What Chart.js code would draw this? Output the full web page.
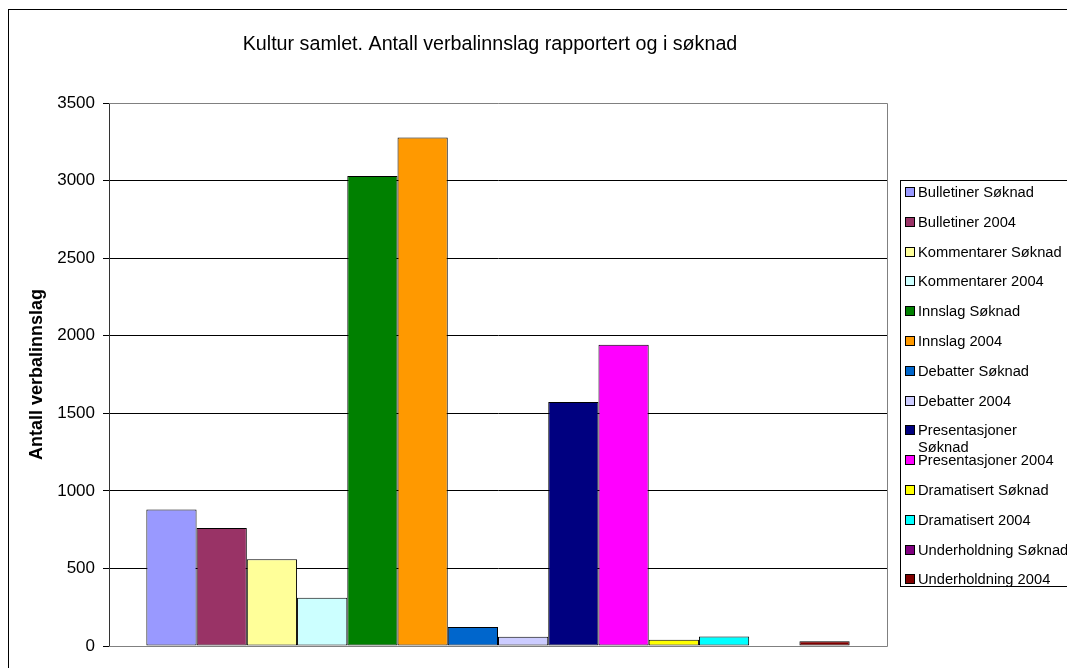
<!DOCTYPE html>
<html><head><meta charset="utf-8">
<script src="https://cdn.jsdelivr.net/npm/chart.js@4"></script>
<style>html,body{margin:0;padding:0;background:#fff}#wrap{width:1067px;height:668px}</style>
</head><body><div id="wrap"><canvas id="c" width="1067" height="668"></canvas></div>
<script>
const TITLE = 'Kultur samlet. Antall verbalinnslag rapportert og i søknad';
const Y_TITLE = 'Antall verbalinnslag';
const CATEGORIES = [''];
const SERIES_NAMES = [
  'Bulletiner Søknad', 'Bulletiner 2004',
  'Kommentarer Søknad', 'Kommentarer 2004',
  'Innslag Søknad', 'Innslag 2004',
  'Debatter Søknad', 'Debatter 2004',
  ['Presentasjoner', 'Søknad'], 'Presentasjoner 2004',
  'Dramatisert Søknad', 'Dramatisert 2004',
  'Underholdning Søknad', 'Underholdning 2004'
];
const SERIES_VALUES = [880, 761, 559, 311, 3029, 3277, 122, 60, 1573, 1941, 40, 62, 0, 30];
const SERIES_COLORS = [
  '#9999FF', '#993366', '#FFFF99', '#CCFFFF', '#008000', '#FF9900', '#0066CC',
  '#CCCCFF', '#000080', '#FF00FF', '#FFFF00', '#00FFFF', '#800080', '#800000'
];
const Y_MIN = 0, Y_MAX = 3500, Y_STEP = 500;

const FONT = 'Liberation Sans, Arial, sans-serif';

const framePlugin = {
  id: 'frame',
  beforeDraw(chart) {
    const ctx = chart.ctx;
    ctx.save();
    ctx.fillStyle = '#fff';
    ctx.fillRect(0, 0, chart.width, chart.height);
    ctx.strokeStyle = '#000';
    ctx.lineWidth = 1;
    ctx.strokeRect(8.5, 9.5, 1200, 800);
    ctx.restore();
  },
  beforeDatasetsDraw(chart) {
    const {ctx, chartArea: a} = chart;
    ctx.save();
    ctx.strokeStyle = '#808080';
    ctx.lineWidth = 1;
    ctx.beginPath();
    ctx.moveTo(a.left, Math.round(a.top) + 0.5);
    ctx.lineTo(Math.round(a.right) + 0.5, Math.round(a.top) + 0.5);
    ctx.lineTo(Math.round(a.right) + 0.5, Math.round(a.bottom) + 0.5);
    ctx.lineTo(a.left, Math.round(a.bottom) + 0.5);
    ctx.stroke();
    ctx.restore();
  },
  afterDraw(chart) {
    const ctx = chart.ctx;
    ctx.save();
    // title
    ctx.fillStyle = '#000';
    ctx.font = '19.7px ' + FONT;
    ctx.textAlign = 'center';
    ctx.textBaseline = 'middle';
    ctx.fillText(TITLE, 490, 45);
    // legend
    const bx = 900.5, by = 180.5, bh = 406;
    ctx.strokeStyle = '#000';
    ctx.lineWidth = 1;
    ctx.strokeRect(bx, by, 300, bh);
    ctx.font = '14.7px ' + FONT;
    ctx.textAlign = 'left';
    chart.data.datasets.forEach((ds, i) => {
      const cy = 192 + 29.8 * i;
      ctx.fillStyle = ds.backgroundColor;
      ctx.fillRect(905, Math.round(cy - 5), 10, 10);
      ctx.strokeStyle = '#000';
      ctx.strokeRect(905.5, Math.round(cy - 5) + 0.5, 9, 9);
      ctx.fillStyle = '#000';
      const lines = Array.isArray(ds.label) ? ds.label : [ds.label];
      lines.forEach((t, j) => ctx.fillText(t, 918, cy + 1 + j * 16.5));
    });
    ctx.restore();
  }
};

new Chart(document.getElementById('c'), {
  type: 'bar',
  data: {
    labels: CATEGORIES,
    datasets: SERIES_NAMES.map((name, i) => ({
      label: name,
      data: [SERIES_VALUES[i]],
      backgroundColor: SERIES_COLORS[i],
      borderColor: '#000',
      borderWidth: 1,
      borderSkipped: false,
      categoryPercentage: 0.904,
      barPercentage: 1
    }))
  },
  options: {
    responsive: false,
    animation: false,
    devicePixelRatio: 1,
    layout: {padding: {left: 0, top: 103, right: 180, bottom: 22}},
    plugins: {legend: {display: false}, title: {display: false}, tooltip: {enabled: false}},
    scales: {
      x: {display: false},
      y: {
        min: Y_MIN, max: Y_MAX,
        afterFit(scale) { scale.width = 109; },
        ticks: {stepSize: Y_STEP, color: '#000', font: {family: FONT, size: 17}, padding: 8,
                callback: v => String(v)},
        grid: {
          color: c => (c.tick && (c.tick.value === Y_MIN || c.tick.value === Y_MAX)) ? 'rgba(0,0,0,0)' : '#000',
          tickColor: '#000', tickLength: 6, lineWidth: 1
        },
        border: {display: true, color: '#333'},
        title: {display: true, text: Y_TITLE, color: '#000', font: {family: FONT, size: 18, weight: 'bold'}, padding: {top: 26, bottom: 0}}
      }
    }
  },
  plugins: [framePlugin]
});
</script></body></html>
